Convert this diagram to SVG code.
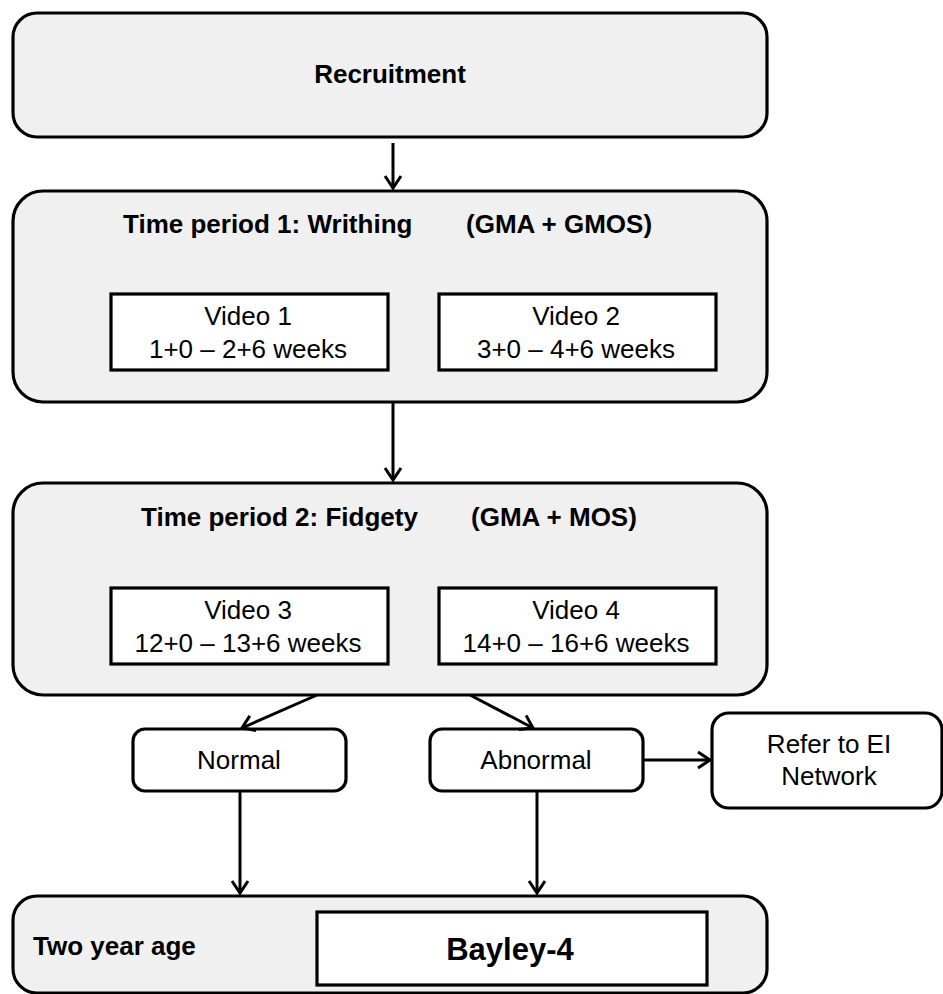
<svg xmlns="http://www.w3.org/2000/svg" width="943" height="994" viewBox="0 0 943 994">
<defs>
<style>
.outer{fill:#f0f0f0;stroke:#000;stroke-width:3.2}
.inner{fill:#fff;stroke:#000;stroke-width:3.2}
.conn{stroke:#000;stroke-width:3;fill:none;marker-end:url(#ah)}
text{font-family:"Liberation Sans",Arial,sans-serif;font-size:26px;fill:#000}
.b{font-weight:bold}
.c{text-anchor:middle}
</style>
<marker id="ah" markerUnits="userSpaceOnUse" markerWidth="18" markerHeight="20" refX="14" refY="10" orient="auto" viewBox="0 0 18 20">
<path d="M2,2 L14,10 L2,18" fill="none" stroke="#000" stroke-width="3" stroke-linejoin="miter"/>
</marker>
</defs>
<rect width="943" height="994" fill="#fff"/>
<g id="recruitment">
<rect class="outer" x="13" y="13" width="754" height="124" rx="24"/>
<text class="b c" x="390" y="83">Recruitment</text>
</g>
<g id="period1">
<rect class="outer" x="13" y="191" width="754" height="211" rx="30"/>
<text class="b" x="123" y="233">Time period 1: Writhing</text>
<text class="b" x="466" y="233">(GMA + GMOS)</text>
</g>
<g id="video1">
<rect class="inner" x="111" y="294" width="277" height="76"/>
<text class="c" x="248" y="325">Video 1</text>
<text class="c" x="248" y="358">1+0 – 2+6 weeks</text>
</g>
<g id="video2">
<rect class="inner" x="439" y="294" width="277" height="76"/>
<text class="c" x="576" y="325">Video 2</text>
<text class="c" x="576" y="358">3+0 – 4+6 weeks</text>
</g>
<g id="period2">
<rect class="outer" x="13" y="483" width="754" height="212" rx="30"/>
<text class="b" x="141" y="526">Time period 2: Fidgety</text>
<text class="b" x="471" y="526">(GMA + MOS)</text>
</g>
<g id="video3">
<rect class="inner" x="111" y="588" width="277" height="76"/>
<text class="c" x="248" y="619">Video 3</text>
<text class="c" x="248" y="652">12+0 – 13+6 weeks</text>
</g>
<g id="video4">
<rect class="inner" x="439" y="588" width="277" height="76"/>
<text class="c" x="576" y="619">Video 4</text>
<text class="c" x="576" y="652">14+0 – 16+6 weeks</text>
</g>
<g id="normal">
<rect class="inner" x="133" y="729" width="213" height="62" rx="12"/>
<text class="c" x="239" y="769">Normal</text>
</g>
<g id="abnormal">
<rect class="inner" x="430" y="729" width="213" height="62" rx="12"/>
<text class="c" x="536" y="769">Abnormal</text>
</g>
<g id="refer">
<rect class="inner" x="712" y="713" width="230" height="95" rx="17"/>
<text class="c" x="829" y="753">Refer to EI</text>
<text class="c" x="829" y="785">Network</text>
</g>
<g id="twoyear">
<rect class="outer" x="13" y="896" width="754" height="97" rx="24"/>
<text class="b" x="33" y="955">Two year age</text>
</g>
<g id="bayley">
<rect class="inner" x="317" y="912" width="390" height="73"/>
<text class="b c" x="510" y="960" style="font-size:31px">Bayley-4</text>
</g>
<g id="connectors">
<line class="conn" x1="393" y1="143" x2="393" y2="188"/>
<line class="conn" x1="393" y1="402" x2="393" y2="480"/>
<line class="conn" x1="317" y1="695" x2="242" y2="728"/>
<line class="conn" x1="470" y1="695" x2="533" y2="728"/>
<line class="conn" x1="643" y1="760" x2="710" y2="760"/>
<line class="conn" x1="240" y1="791" x2="240" y2="893"/>
<line class="conn" x1="537" y1="791" x2="537" y2="893"/>
</g>
</svg>
